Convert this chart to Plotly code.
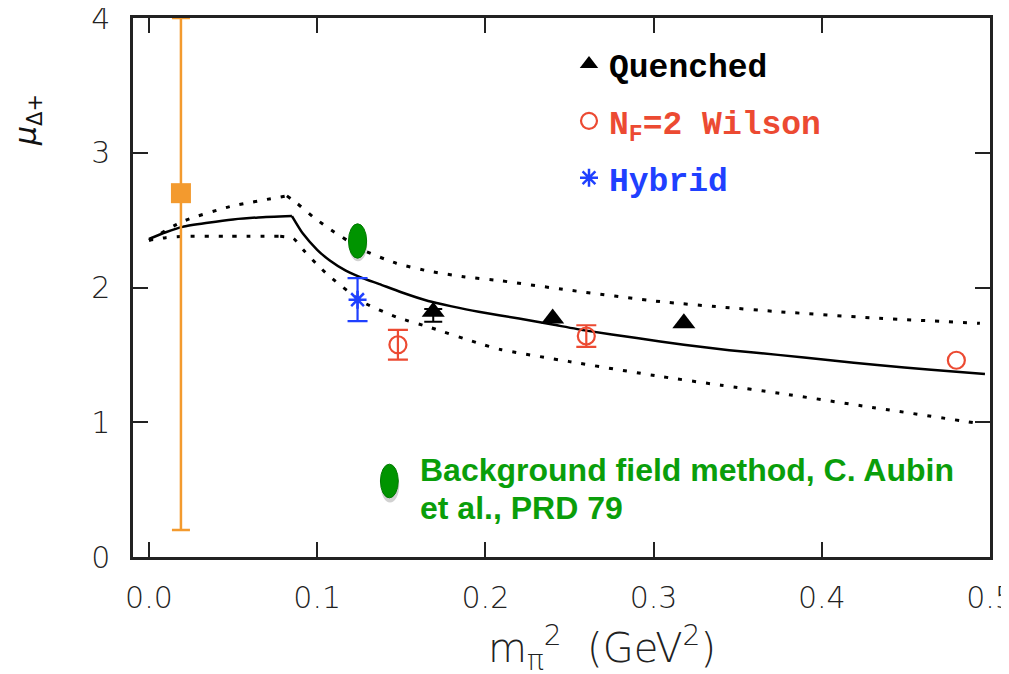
import plotly.graph_objects as go

# ---- data ----
curve_x = [0.0, 0.01, 0.02, 0.035, 0.05, 0.065, 0.085, 0.0915, 0.1, 0.1075, 0.117, 0.127, 0.137,
           0.15, 0.166, 0.18, 0.196, 0.22, 0.24, 0.26, 0.29, 0.318, 0.345, 0.374, 0.405, 0.433,
           0.465, 0.497]
curve_y = [2.36, 2.41, 2.45, 2.48, 2.505, 2.52, 2.53, 2.40, 2.28, 2.20, 2.125, 2.07, 2.025,
           1.965, 1.90, 1.86, 1.82, 1.77, 1.725, 1.68, 1.625, 1.575, 1.535, 1.50, 1.46, 1.425,
           1.39, 1.358]

upper_x = [0.0, 0.02, 0.048, 0.082, 0.088, 0.098, 0.108, 0.127, 0.147, 0.167, 0.187, 0.209,
           0.25, 0.304, 0.34, 0.375, 0.43, 0.494]
upper_y = [2.35, 2.49, 2.60, 2.68, 2.625, 2.52, 2.43, 2.28, 2.18, 2.12, 2.08, 2.05,
           1.98, 1.895, 1.855, 1.82, 1.775, 1.734]

lower_x = [0.0, 0.01, 0.02, 0.048, 0.078, 0.0858, 0.0917, 0.1, 0.1076, 0.1274, 0.1473, 0.168,
           0.195, 0.209, 0.25, 0.304, 0.34, 0.375, 0.43, 0.494]
lower_y = [2.35, 2.37, 2.38, 2.38, 2.38, 2.365, 2.28, 2.17, 2.08, 1.89, 1.78, 1.70,
           1.59, 1.54, 1.45, 1.34, 1.275, 1.215, 1.11, 0.99]

# points with visible error bars / without
quenched_x = [0.169]
quenched_y = [1.82]
quenched_err_plus = [0.02]
quenched_err_minus = [0.075]
quenched_noerr_x = [0.240, 0.318]
quenched_noerr_y = [1.77, 1.735]

wilson_x = [0.148, 0.260]
wilson_y = [1.575, 1.64]
wilson_err = [0.11, 0.08]
wilson_noerr_x = [0.480]
wilson_noerr_y = [1.46]

hybrid_x = [0.124]
hybrid_y = [1.91]
hybrid_err = [0.16]

phys_x = [0.019]
phys_y = [2.70]
phys_err_plus = [1.30]
phys_err_minus = [2.50]

bfm_x = [0.124]
bfm_y = [2.345]

x_ticks = [0.0, 0.1, 0.2, 0.3, 0.4, 0.5]
y_ticks = [0, 1, 2, 3, 4]

legend_names = ["Quenched", "N<sub>F</sub>=2 Wilson", "Hybrid"]
note_lines = ["Background field method, C. Aubin", "et al., PRD 79"]

# ---- styles ----
BLACK = "#000000"
RED = "#EC4A32"
BLUE = "#1F40FF"
ORANGE = "#F39A2E"
GREEN = "#0A9E0A"
GREEN_FILL = "#009400"
TICK_FONT = dict(family="DejaVu Sans", size=30, color="#222222", weight=200)
KINK = 0.085  # x where the chiral curves have a cusp

fig = go.Figure()


def add_curve(xs, ys, line):
    """Draw a curve as two smooth pieces joined at the cusp."""
    left = [(x, y) for x, y in zip(xs, ys) if x <= KINK]
    right = [(x, y) for x, y in zip(xs, ys) if x >= KINK]
    if right and left and right[0][0] > KINK:
        right = [left[-1]] + right
    for part in (left, right):
        fig.add_trace(go.Scatter(x=[p[0] for p in part], y=[p[1] for p in part],
                                 mode="lines", showlegend=False, hoverinfo="skip",
                                 line=dict(shape="spline", smoothing=0.6, **line)))


add_curve(upper_x, upper_y, dict(color=BLACK, width=3, dash="4px,10px"))
add_curve(lower_x, lower_y, dict(color=BLACK, width=3, dash="4px,10px"))
add_curve(curve_x, curve_y, dict(color=BLACK, width=2.5))

fig.add_trace(go.Scatter(
    x=phys_x, y=phys_y, mode="markers", showlegend=False,
    marker=dict(symbol="square", size=20, color=ORANGE),
    error_y=dict(type="data", array=phys_err_plus, arrayminus=phys_err_minus,
                 color=ORANGE, thickness=2.5, width=9)))

q_marker = dict(symbol="triangle-up", size=20, color=BLACK)
fig.add_trace(go.Scatter(
    x=quenched_x, y=quenched_y, mode="markers", name=legend_names[0], legendgroup="q",
    marker=q_marker,
    error_y=dict(type="data", array=quenched_err_plus, arrayminus=quenched_err_minus,
                 color=BLACK, thickness=2, width=9)))
fig.add_trace(go.Scatter(
    x=quenched_noerr_x, y=quenched_noerr_y, mode="markers", legendgroup="q",
    showlegend=False, marker=q_marker))

w_marker = dict(symbol="circle-open", size=17, color=RED, line=dict(width=2.2, color=RED))
fig.add_trace(go.Scatter(
    x=wilson_x, y=wilson_y, mode="markers",
    name='<span style="color:%s">%s</span>' % (RED, legend_names[1]), legendgroup="w",
    marker=w_marker,
    error_y=dict(type="data", array=wilson_err, color=RED, thickness=2.2, width=10)))
fig.add_trace(go.Scatter(
    x=wilson_noerr_x, y=wilson_noerr_y, mode="markers", legendgroup="w",
    showlegend=False, marker=w_marker))

fig.add_trace(go.Scatter(
    x=hybrid_x, y=hybrid_y, mode="markers",
    name='<span style="color:%s">%s</span>' % (BLUE, legend_names[2]), legendgroup="h",
    marker=dict(symbol="asterisk-open", size=15, color=BLUE, line=dict(width=2.5, color=BLUE)),
    error_y=dict(type="data", array=hybrid_err, color=BLUE, thickness=2.2, width=10)))

shapes = []
# green ellipse data point (with soft shadow)
for bx, by in zip(bfm_x, bfm_y):
    shapes.append(dict(type="circle", xref="x", yref="y", layer="above",
                       x0=bx - 0.0052, x1=bx + 0.0058, y0=by - 0.15, y1=by + 0.10,
                       fillcolor="rgba(0,0,0,0.18)", line=dict(width=0)))
    shapes.append(dict(type="circle", xref="x", yref="y", layer="above",
                       x0=bx - 0.0054, x1=bx + 0.0054, y0=by - 0.128, y1=by + 0.128,
                       fillcolor=GREEN_FILL, line=dict(color="#007a00", width=1)))
# green ellipse in the note
shapes.append(dict(type="circle", xref="x", yref="y", layer="above",
                   x0=0.1378, x1=0.1488, y0=0.564 - 0.16, y1=0.564 + 0.10,
                   fillcolor="rgba(0,0,0,0.18)", line=dict(width=0)))
shapes.append(dict(type="circle", xref="x", yref="y", layer="above",
                   x0=0.1376, x1=0.1482, y0=0.564 - 0.125, y1=0.564 + 0.125,
                   fillcolor=GREEN_FILL, line=dict(color="#007a00", width=1)))

# page body has an 8px margin: figure is sized/placed to land on the reference pixels
OFF = 8
W, H = 1009 - OFF, 674 - OFF
ML, MR, MT, MB = 133 - OFF, 19, 18 - OFF, 117
PW, PH = W - ML - MR, H - MT - MB


def px_to_paper(px, py):
    return ((px - OFF - ML) / PW, (H - MB - (py - OFF)) / PH)


ytx, yty = px_to_paper(28, 120)
xtx, xty = px_to_paper(602, 648)

annotations = [
    dict(x=0.16, y=0.646, xref="x", yref="y", xanchor="left", yanchor="middle",
         text="<b>%s</b>" % note_lines[0], showarrow=False,
         font=dict(family="Liberation Sans", size=32, color=GREEN)),
    dict(x=0.16, y=0.364, xref="x", yref="y", xanchor="left", yanchor="middle",
         text="<b>%s</b>" % note_lines[1], showarrow=False,
         font=dict(family="Liberation Sans", size=32, color=GREEN)),
    dict(x=ytx, y=yty, xref="paper", yref="paper", showarrow=False, textangle=-90,
         text="<i>μ</i><sub>Δ+</sub>", xanchor="center", yanchor="middle",
         font=dict(family="DejaVu Sans", size=30, color="#111111")),
    dict(x=xtx, y=xty, xref="paper", yref="paper", showarrow=False,
         text="m<sub>π</sub><sup>2</sup>  (GeV<sup>2</sup>)", xanchor="center", yanchor="middle",
         font=dict(family="DejaVu Sans", size=40, color="#222222", weight=200)),
]

lgx, lgy = px_to_paper(569, 36)

fig.update_layout(
    width=W, height=H,
    margin=dict(l=ML, r=MR, t=MT, b=MB, autoexpand=False),
    paper_bgcolor="white", plot_bgcolor="white",
    shapes=shapes, annotations=annotations,
    showlegend=True,
    legend=dict(x=lgx, y=lgy, xanchor="left", yanchor="top",
                bgcolor="rgba(0,0,0,0)", tracegroupgap=11, traceorder="grouped",
                font=dict(family="Liberation Mono", size=33, color=BLACK, weight="bold")),
    xaxis=dict(range=[-0.0095, 0.5], tickvals=x_ticks, tickformat=".1f", automargin=False,
               showline=True, linecolor="#222222", linewidth=2.5, mirror="ticks",
               ticks="inside", ticklen=15, tickwidth=2, tickcolor="#222222",
               showgrid=False, zeroline=False, tickfont=TICK_FONT, ticklabelstandoff=12,
               ticklabeloverflow="allow"),
    yaxis=dict(range=[0, 4], tickvals=y_ticks, automargin=False,
               showline=True, linecolor="#222222", linewidth=2.5, mirror="ticks",
               ticks="inside", ticklen=15, tickwidth=2, tickcolor="#222222",
               showgrid=False, zeroline=False, tickfont=TICK_FONT, ticklabelstandoff=14,
               ticklabeloverflow="allow"),
)

fig.write_html("out.html")
